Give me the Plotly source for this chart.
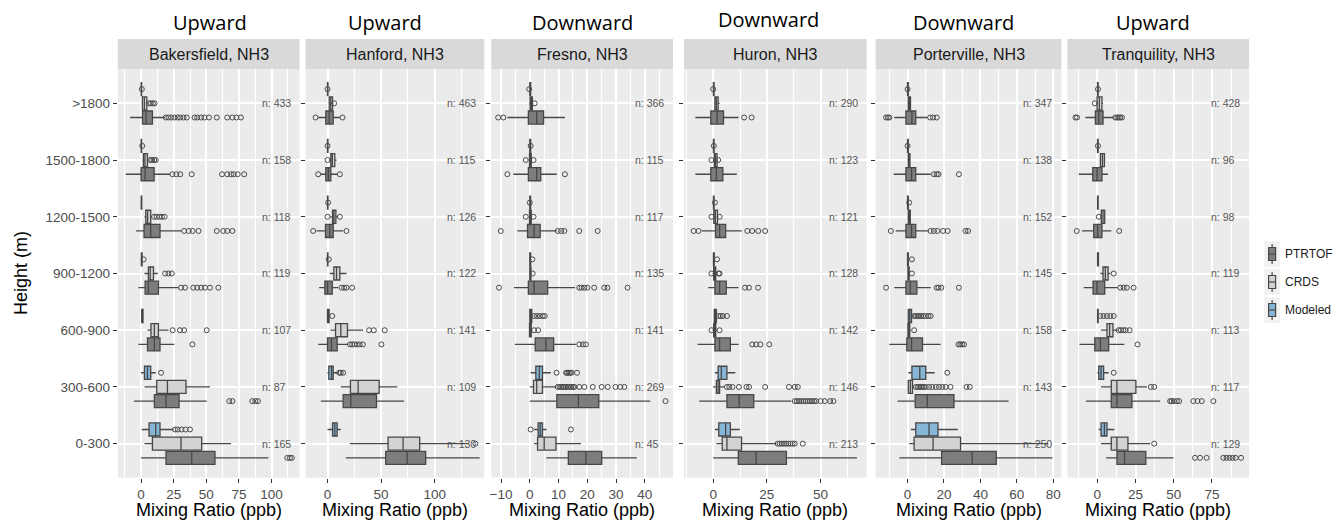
import plotly.graph_objects as go

W, H = 1341, 520

HEIGHTS = ["0-300", "300-600", "600-900", "900-1200", "1200-1500", "1500-1800", ">1800"]
SERIES = ["PTRTOF", "CRDS", "Modeled"]
SITES = ["Bakersfield, NH3", "Hanford, NH3", "Fresno, NH3", "Huron, NH3", "Porterville, NH3", "Tranquility, NH3"]
FLOW = ["Upward", "Upward", "Downward", "Downward", "Downward", "Upward"]

# Box statistics per height band (bottom band first): (lower whisker, q1, median, q3, upper whisker)
BAK_PTRTOF = [(0, 19.1, 38.8, 56.6, 97.5), (-5.4, 10.2, 19.1, 29.1, 50.3), (-2.0, 4.9, 10.2, 14.5, 25.5),
              (-2.0, 3.1, 5.6, 13.3, 28.6), (-3.8, 2.3, 7.4, 14.5, 31.0), (-11.7, 0.0, 3.1, 10.0, 22.2),
              (-8.4, 1.1, 3.8, 8.7, 18.4)]
BAK_PTRTOF_OUT = [[112, 114, 115.5], [67.6, 70.0, 85.2, 87.5, 89.5], [39.3],
                  [30.6, 33.7, 40.0, 43.0, 46.0, 49.0, 52.8, 59.2],
                  [33.0, 36.5, 39.5, 44.0, 58.0, 63.0, 66.0, 70.0],
                  [24.0, 27.0, 30.0, 38.8, 62.0, 66.0, 69.0, 71.0, 74.0, 79.0],
                  [19.0, 21.0, 23.0, 25.5, 28.0, 30.0, 32.5, 35.0, 41.0, 43.0, 46.0, 48.5, 52.0, 58.0,
                   66.0, 70.0, 73.0, 76.5]]
BAK_CRDS = [(2.6, 8.7, 30.6, 46.4, 68.9), (2.6, 12.0, 20.2, 34.4, 52.8), (4.9, 7.6, 10.2, 13.3, 21.0),
            (2.6, 5.6, 7.0, 9.5, 12.8), (2.6, 3.6, 5.0, 7.4, 8.5), (1.0, 1.8, 3.0, 4.9, 6.0),
            (0.5, 1.0, 2.5, 4.4, 5.2)]
BAK_CRDS_OUT = [[], [], [24.2, 29.8, 33.0, 50.3], [18.4, 21.0, 23.5], [10.0, 12.0, 14.0, 16.0, 18.0],
                [6.9, 8.5, 10.0, 11.2], [6.0, 7.5, 9.0, 10.3]]
BAK_MODEL = [(0.5, 6.1, 11.2, 14.5, 24.8), (0.0, 2.6, 4.9, 7.4, 11.2), (0.0, 0.5, 1.0, 1.5, 2.0),
             (0.0, 0.2, 0.5, 0.8, 1.2), (0.0, 0.1, 0.3, 0.5, 0.8), (0.0, 0.1, 0.2, 0.4, 0.6),
             (0.0, 0.1, 0.2, 0.4, 0.6)]
BAK_MODEL_OUT = [[26.0, 28.0, 31.0, 34.0, 37.5], [15.3], [], [2.0], [], [0.9], [0.6]]

HAN_PTRTOF = [(17.1, 54.3, 74.3, 91.6, 142.0), (-6.2, 14.6, 21.7, 45.7, 71.5), (-8.7, 0.0, 3.7, 9.0, 19.3),
              (-7.8, -2.5, 0.0, 4.4, 10.0), (-10.2, -1.9, 2.2, 5.3, 14.6), (-6.2, -1.6, 0.8, 3.1, 9.3),
              (-8.7, -1.6, 1.6, 5.3, 11.5)]
HAN_PTRTOF_OUT = [[], [], [21.0, 23.0, 25.0, 27.5, 30.0, 33.0, 50.3], [13.0, 15.5, 17.7, 23.0],
                  [-13.4, 17.7], [-8.7, 11.5], [-11.2, 14.0]]
HAN_CRDS = [(20.8, 56.5, 70.5, 86.0, 132.0), (12.4, 21.4, 28.6, 48.2, 65.2), (2.8, 7.5, 12.4, 18.6, 33.3),
            (2.2, 5.9, 8.4, 11.5, 17.7), (2.5, 4.7, 6.0, 7.8, 10.0), (1.5, 3.1, 4.5, 6.8, 8.5),
            (1.0, 1.6, 3.0, 4.7, 5.5)]
HAN_CRDS_OUT = [[138.0], [], [38.8, 43.2, 53.4], [], [0.0, 11.5], [0.0], [6.2]]
HAN_MODEL = [(0.0, 4.7, 6.8, 9.0, 12.4), (0.0, 1.2, 3.7, 5.3, 10.0), (-0.5, 0.0, 0.5, 1.5, 2.5),
             (-0.3, 0.0, 0.2, 0.4, 0.6), (-0.3, 0.0, 0.2, 0.4, 0.6), (-0.3, 0.0, 0.2, 0.4, 0.6),
             (-0.3, 0.0, 0.2, 0.4, 0.6)]
HAN_MODEL_OUT = [[], [10.9, 12.4, 14.6], [4.4], [1.2], [0.6], [0.0], [0.0]]

FRE_PTRTOF = [(5.8, 13.4, 19.5, 25.0, 37.2), (0.0, 9.4, 16.9, 24.0, 41.9), (-5.2, 1.9, 5.6, 8.3, 16.0),
              (-5.5, -0.5, 1.5, 6.2, 15.7), (-4.3, -0.8, 1.5, 3.6, 9.4), (-5.7, -0.5, 2.4, 3.8, 9.4),
              (-7.8, -0.5, 2.4, 4.8, 12.2)]
FRE_PTRTOF_OUT = [[], [47.2], [17.2, 18.5, 19.5], [-10.7, 17.2, 18.0, 19.0, 20.0, 22.4, 25.9, 27.0, 34.0],
                  [-10.1, 9.7, 10.9, 12.0, 17.2, 23.6], [-7.8, 12.2], [-11.0, -9.2]]
FRE_CRDS = [(1.5, 2.7, 5.0, 9.1, 17.8), (0.0, 1.3, 2.4, 4.4, 9.1), (-0.3, -0.1, 0.2, 0.5, 0.9),
            (-0.2, 0.0, 0.2, 0.4, 0.7), (-0.3, -0.1, 0.2, 0.5, 0.8), (-0.3, -0.1, 0.2, 0.5, 0.8),
            (-0.2, 0.1, 0.4, 0.9, 1.2)]
FRE_CRDS_OUT = [[], [9.7, 10.3, 10.9, 11.5, 12.0, 12.6, 13.2, 13.8, 14.4, 15.0, 15.5, 17.2, 19.0, 21.9,
                     25.0, 27.1, 29.8, 31.5, 32.9],
                [1.5, 2.9], [1.0], [-1.4, 1.3], [-1.4, 1.3], [1.7]]
FRE_MODEL = [(1.5, 2.9, 3.6, 4.4, 5.8), (0.3, 2.1, 3.3, 4.4, 7.3), (-0.2, 0.0, 0.2, 0.7, 1.2),
             (-0.2, 0.0, 0.1, 0.3, 0.5), (-0.2, 0.0, 0.1, 0.3, 0.5), (-0.2, 0.0, 0.1, 0.3, 0.5),
             (-0.2, 0.0, 0.1, 0.3, 0.5)]
FRE_MODEL_OUT = [[0.3, 14.3], [9.3, 12.6, 13.0, 13.5, 14.0, 14.5, 16.4], [1.5, 2.5, 3.5, 4.5, 5.2],
                 [0.9], [0.0], [0.3], [-0.2]]

HUR_PTRTOF = [(0.0, 11.7, 20.0, 34.1, 67.0), (-6.5, 6.4, 12.1, 18.9, 36.4), (-7.3, 0.8, 3.0, 8.0, 11.8),
              (-2.3, 0.8, 3.0, 6.1, 11.8), (-5.3, 1.1, 3.0, 5.8, 13.3), (-8.3, -1.1, 1.5, 4.5, 11.0),
              (-8.3, -1.1, 1.8, 4.8, 11.8)]
HUR_PTRTOF_OUT = [[], [38.0, 39.0, 40.0, 41.0, 42.0, 43.0, 44.0, 45.0, 46.0, 47.0, 48.0, 50.0, 52.0, 54.5, 56.0],
                  [18.2, 20.0, 22.0, 26.1], [14.8, 16.7, 20.9], [-9.1, -6.8, 15.9, 18.2, 21.0, 24.2],
                  [], [14.4, 17.9]]
HUR_CRDS = [(1.5, 4.2, 6.4, 13.2, 29.5), (0.0, 1.5, 2.3, 3.0, 5.3), (-0.3, 0.2, 0.8, 1.2, 1.8),
            (-0.3, 0.2, 0.8, 1.2, 1.8), (0.0, 0.3, 1.0, 2.0, 2.5), (0.0, 0.5, 1.0, 1.8, 2.2),
            (0.5, 0.8, 1.5, 2.3, 3.0)]
HUR_CRDS_OUT = [[30.0, 31.0, 32.0, 33.0, 34.0, 35.0, 36.0, 37.0, 38.0, 41.7],
                [6.4, 7.5, 9.0, 12.0, 15.5, 16.7, 24.2, 35.3, 38.0, 39.4],
                [-0.8, 3.0], [-0.8, 2.5, 3.0], [-0.8, 3.0], [-0.8, 2.3], []]
HUR_MODEL = [(0.8, 2.6, 5.8, 8.0, 12.4), (0.8, 2.3, 3.8, 6.4, 10.3), (0.3, 0.5, 1.0, 1.5, 2.0),
             (0.0, 0.1, 0.3, 0.5, 0.8), (0.0, 0.1, 0.2, 0.4, 0.6), (0.0, 0.1, 0.2, 0.4, 0.6),
             (0.0, 0.1, 0.2, 0.4, 0.6)]
HUR_MODEL_OUT = [[], [], [2.5, 3.5, 4.5, 6.4], [1.8], [0.8], [0.3], [0.0]]

POR_PTRTOF = [(-4.5, 18.7, 35.5, 48.7, 79.6), (-5.5, 4.2, 10.9, 25.5, 55.5), (-10.0, -0.4, 2.2, 8.2, 18.2),
              (-7.3, -0.9, 1.5, 5.1, 12.7), (-6.5, -0.9, 2.2, 4.5, 11.3), (-7.6, -0.9, 2.2, 4.5, 12.7),
              (-7.3, -0.9, 2.4, 4.5, 10.9)]
POR_PTRTOF_OUT = [[], [], [28.0, 29.0, 30.0, 31.0], [-11.8, 16.0, 17.0, 18.5, 28.2],
                  [-9.2, 12.7, 14.5, 16.4, 19.5, 22.0, 31.8, 33.2], [14.5, 16.0, 17.0, 28.2],
                  [-11.8, -10.8, -10.0, 12.4, 14.0, 16.0]]
POR_CRDS = [(0.9, 3.6, 14.0, 29.1, 77.3), (0.0, 0.4, 1.5, 2.7, 3.6), (0.0, 0.2, 0.6, 1.2, 1.8),
            (0.0, 0.2, 0.5, 0.9, 1.2), (0.0, 0.4, 0.9, 1.5, 1.8), (0.0, 0.4, 0.9, 1.3, 1.5),
            (0.0, 0.4, 1.0, 1.6, 1.8)]
POR_CRDS_OUT = [[], [4.5, 5.5, 6.4, 7.3, 8.2, 9.0, 10.0, 11.8, 13.6, 15.5, 17.3, 19.1, 20.9, 23.6, 32.4, 34.2],
                [3.6], [2.4], [], [], []]
POR_MODEL = [(1.8, 4.5, 11.8, 16.7, 27.6), (0.4, 2.4, 6.7, 10.0, 14.9), (0.0, 0.4, 1.2, 2.2, 3.0),
             (-0.3, 0.0, 0.2, 0.4, 0.6), (-0.3, 0.0, 0.2, 0.4, 0.6), (-0.3, 0.0, 0.2, 0.4, 0.6),
             (-0.3, 0.0, 0.2, 0.4, 0.6)]
POR_MODEL_OUT = [[], [21.8], [3.6, 4.5, 5.5, 6.4, 7.3, 8.5, 10.0, 11.5, 12.7], [2.4], [0.9], [0.0], [0.0]]

TRA_PTRTOF = [(5.7, 12.8, 17.8, 31.7, 49.8), (-7.4, 9.1, 12.8, 22.6, 41.1), (-11.7, -1.7, 2.0, 7.4, 17.6),
              (-8.9, -2.8, -0.2, 4.8, 13.3), (-10.0, -2.4, 0.2, 3.0, 9.1), (-12.2, -3.0, -0.2, 3.0, 7.0),
              (-7.8, -1.3, 0.9, 3.7, 10.7)]
TRA_PTRTOF_OUT = [[63.9, 67.2, 71.5, 82.4, 84.5, 86.5, 88.5, 90.5, 94.0],
                  [47.6, 48.5, 50.0, 52.0, 53.5, 62.8, 65.5, 68.3, 75.9],
                  [26.3], [15.0, 17.2, 19.3, 23.7], [-13.5, 14.3], [],
                  [-14.3, -13.3, 11.7, 13.0, 14.0, 15.0, 16.1]]
TRA_CRDS = [(2.4, 9.1, 12.8, 20.0, 34.6), (2.4, 9.1, 12.8, 25.2, 32.4), (2.4, 6.3, 8.0, 10.2, 13.3),
            (2.0, 3.7, 5.2, 7.0, 8.5), (2.0, 2.6, 3.7, 4.8, 5.2), (1.5, 2.0, 3.3, 4.6, 5.2),
            (-0.7, -0.2, 1.3, 3.0, 3.7)]
TRA_CRDS_OUT = [[37.2], [35.0, 37.2], [13.9, 15.4, 17.0, 18.5, 21.1], [10.7], [0.9], [], [-1.7]]
TRA_MODEL = [(0.9, 2.4, 4.6, 6.3, 11.1), (0.0, 0.9, 2.4, 4.1, 7.4), (0.0, 0.1, 0.3, 0.5, 0.9),
             (0.0, 0.1, 0.4, 0.7, 0.9), (0.0, 0.1, 0.3, 0.5, 0.7), (0.0, 0.1, 0.3, 0.5, 0.7),
             (0.0, 0.1, 0.3, 0.5, 0.7)]
TRA_MODEL_OUT = [[], [10.7], [2.0, 4.0, 6.3, 8.5, 10.7], [], [], [0.4], [0.4]]

# Sample counts per height band (bottom band first)
BAK_N = [165, 87, 107, 119, 118, 158, 433]
HAN_N = [130, 109, 141, 122, 126, 115, 463]
FRE_N = [45, 269, 141, 135, 117, 115, 366]
HUR_N = [213, 146, 142, 128, 121, 123, 290]
POR_N = [250, 143, 158, 145, 152, 138, 347]
TRA_N = [129, 117, 113, 119, 98, 96, 428]

# x-axis settings per facet: range, major ticks, minor grid positions
X_RANGES = [[-17.8, 121.4], [-20.5, 146.3], [-13.4, 49.8], [-13.6, 71.5], [-17.5, 84.5], [-19.6, 99.3]]
X_TICKS = [[0, 25, 50, 75, 100], [0, 50, 100], [-10, 0, 10, 20, 30, 40], [0, 25, 50],
           [0, 20, 40, 60, 80], [0, 25, 50, 75]]
X_MINOR = [[-12.5, 12.5, 37.5, 62.5, 87.5, 112.5], [25, 75, 125], [-5, 5, 15, 25, 35, 45],
           [-12.5, 12.5, 37.5, 62.5], [-10, 10, 30, 50, 70], [-12.5, 12.5, 37.5, 62.5, 87.5]]

site_stats = [
    (BAK_PTRTOF, BAK_PTRTOF_OUT, BAK_CRDS, BAK_CRDS_OUT, BAK_MODEL, BAK_MODEL_OUT, BAK_N),
    (HAN_PTRTOF, HAN_PTRTOF_OUT, HAN_CRDS, HAN_CRDS_OUT, HAN_MODEL, HAN_MODEL_OUT, HAN_N),
    (FRE_PTRTOF, FRE_PTRTOF_OUT, FRE_CRDS, FRE_CRDS_OUT, FRE_MODEL, FRE_MODEL_OUT, FRE_N),
    (HUR_PTRTOF, HUR_PTRTOF_OUT, HUR_CRDS, HUR_CRDS_OUT, HUR_MODEL, HUR_MODEL_OUT, HUR_N),
    (POR_PTRTOF, POR_PTRTOF_OUT, POR_CRDS, POR_CRDS_OUT, POR_MODEL, POR_MODEL_OUT, POR_N),
    (TRA_PTRTOF, TRA_PTRTOF_OUT, TRA_CRDS, TRA_CRDS_OUT, TRA_MODEL, TRA_MODEL_OUT, TRA_N),
]

# Styling
FILLS = {"PTRTOF": "#7d7d7d", "CRDS": "#d3d3d3", "Modeled": "#87b5d6"}
DODGE = {"PTRTOF": -0.25, "CRDS": 0.0, "Modeled": 0.25}
OUTLINE = "#474747"
PANEL_BG = "#EBEBEB"
STRIP_BG = "#D9D9D9"
FONT = "Liberation Sans, Arial, sans-serif"
TITLE_FONT = "Open Sans, Lato, sans-serif"

# Facet pixel extents (left, right) and vertical plot area
PANEL_PX = [(116, 298), (304, 483), (490, 672), (683, 866), (875, 1061), (1067, 1249)]
PLOT_TOP, PLOT_BOTTOM = 69.3, 477.7
STRIP_TOP = 39.0
TITLE_POS = [(208.7, 22.7), (384.0, 22.7), (581.7, 22.7), (767.3, 20.0), (962.7, 22.7), (1152.3, 22.7)]


def py(px):
    return 1 - px / H


fig = go.Figure()
layout = dict(
    width=W, height=H, autosize=False,
    margin=dict(l=0, r=0, t=0, b=0),
    paper_bgcolor="white", plot_bgcolor=PANEL_BG,
    showlegend=False,
    font=dict(family=FONT, color="#4D4D4D"),
)
shapes, annotations = [], []
positions = list(range(len(HEIGHTS)))

for k, stats in enumerate(site_stats):
    sfx = "" if k == 0 else str(k + 1)
    xa, ya = "x" + sfx, "y" + sfx
    series_data = [(SERIES[0], stats[0], stats[1]), (SERIES[1], stats[2], stats[3]),
                   (SERIES[2], stats[4], stats[5])]
    for name, box, out in series_data:
        ypos = [p + DODGE[name] for p in positions]
        fig.add_trace(go.Box(
            y=ypos, orientation="h",
            lowerfence=[b[0] for b in box], q1=[b[1] for b in box], median=[b[2] for b in box],
            q3=[b[3] for b in box], upperfence=[b[4] for b in box],
            width=0.23, whiskerwidth=0, boxpoints=False,
            fillcolor=FILLS[name], line=dict(color=OUTLINE, width=1.3),
            name=name, xaxis=xa, yaxis=ya, hoverinfo="skip",
        ))
        ox, oy = [], []
        for p, vals in zip(ypos, out):
            ox.extend(vals)
            oy.extend([p] * len(vals))
        fig.add_trace(go.Scatter(
            x=ox, y=oy, mode="markers", xaxis=xa, yaxis=ya, hoverinfo="skip",
            marker=dict(symbol="circle-open", size=5, color="#4a4a4a", line=dict(width=1)),
        ))

    left, right = PANEL_PX[k]
    layout["xaxis" + sfx] = dict(
        domain=[left / W, right / W], anchor=ya, range=X_RANGES[k],
        tickmode="array", tickvals=X_TICKS[k], ticks="outside", ticklen=4, tickwidth=1,
        tickcolor="#333333", tickfont=dict(size=13.5, color="#4D4D4D", family=FONT),
        showgrid=True, gridcolor="white", gridwidth=1.6, zeroline=False, showline=False,
        minor=dict(tickmode="array", tickvals=X_MINOR[k], showgrid=True, gridcolor="white",
                   gridwidth=0.8, ticks=""),
    )
    layout["yaxis" + sfx] = dict(
        domain=[py(PLOT_BOTTOM), py(PLOT_TOP)], anchor=xa, range=[-0.6, 6.6],
        tickmode="array", tickvals=positions, ticktext=HEIGHTS, showticklabels=(k == 0),
        ticks="outside", ticklen=4, tickwidth=1, tickcolor="#333333",
        tickfont=dict(size=13.5, color="#4D4D4D", family=FONT),
        showgrid=True, gridcolor="white", gridwidth=1.6, zeroline=False, showline=False,
    )

    # facet strip
    shapes.append(dict(type="rect", xref=xa + " domain", yref="paper", x0=0, x1=1,
                       y0=py(PLOT_TOP), y1=py(STRIP_TOP), fillcolor=STRIP_BG, line=dict(width=0),
                       layer="below"))
    annotations.append(dict(text=SITES[k], xref=xa + " domain", yref="paper", x=0.5,
                            y=py((PLOT_TOP + STRIP_TOP) / 2), showarrow=False,
                            font=dict(size=16, color="#1A1A1A", family=FONT),
                            xanchor="center", yanchor="middle"))
    # direction title
    tx, ty = TITLE_POS[k]
    annotations.append(dict(text=FLOW[k], xref="paper", yref="paper", x=tx / W, y=py(ty),
                            showarrow=False, font=dict(size=20, color="black", family=TITLE_FONT),
                            xanchor="center", yanchor="middle"))
    # x-axis title
    annotations.append(dict(text="Mixing Ratio (ppb)", xref=xa + " domain", yref="paper", x=0.5,
                            y=py(510), showarrow=False,
                            font=dict(size=18, color="black", family=FONT),
                            xanchor="center", yanchor="middle"))
    # sample counts
    for p, n in zip(positions, stats[6]):
        annotations.append(dict(text=f"n: {n}", xref=xa + " domain", yref=ya, x=0.78, y=p,
                                showarrow=False, xanchor="left", yanchor="middle",
                                font=dict(size=10.5, color="#555555", family=FONT)))

# y-axis title
annotations.append(dict(text="Height (m)", xref="paper", yref="paper", x=19 / W, y=py(273),
                        textangle=-90, showarrow=False, xanchor="center", yanchor="middle",
                        font=dict(size=18, color="black", family=FONT)))

# legend keys
for name, cy in zip(SERIES, [254, 282, 310]):
    cx = 1272
    shapes.append(dict(type="rect", xref="paper", yref="paper", x0=(cx - 8) / W, x1=(cx + 8) / W,
                       y0=py(cy + 13), y1=py(cy - 13), fillcolor="#F2F2F2", line=dict(width=0)))
    shapes.append(dict(type="line", xref="paper", yref="paper", x0=cx / W, x1=cx / W,
                       y0=py(cy + 10), y1=py(cy - 10), line=dict(color=OUTLINE, width=1.2)))
    shapes.append(dict(type="rect", xref="paper", yref="paper", x0=(cx - 3.5) / W, x1=(cx + 3.5) / W,
                       y0=py(cy + 6.5), y1=py(cy - 6.5), fillcolor=FILLS[name],
                       line=dict(color=OUTLINE, width=1.2)))
    shapes.append(dict(type="line", xref="paper", yref="paper", x0=(cx - 3.5) / W, x1=(cx + 3.5) / W,
                       y0=py(cy), y1=py(cy), line=dict(color=OUTLINE, width=1.2)))
    annotations.append(dict(text=name, xref="paper", yref="paper", x=1283 / W, y=py(cy),
                            showarrow=False, xanchor="left", yanchor="middle",
                            font=dict(size=12, color="#1A1A1A", family=FONT)))

layout["shapes"] = shapes
layout["annotations"] = annotations
fig.update_layout(**layout)
fig.write_html("out.html")
